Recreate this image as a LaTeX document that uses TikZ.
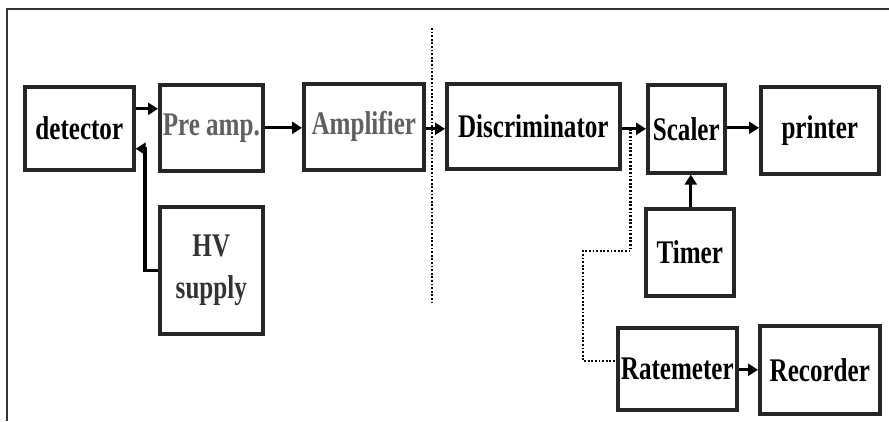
\documentclass[tikz,border=0pt]{standalone}
\usepackage{fontspec}
\setmainfont{Liberation Serif}[FakeStretch=0.76]
\usetikzlibrary{arrows.meta}
\definecolor{txtgray}{HTML}{606060}
\definecolor{hvgray}{HTML}{333333}
\tikzset{
  blk/.style={draw=black!85, line width=3.6pt, anchor=north west, inner sep=0pt,
    font=\fontsize{33}{42}\selectfont\bfseries, align=center},
  arr/.style={line width=3.2pt, -{Triangle[length=10pt,width=12pt]}},
  dots/.style={line width=2.6pt, dash pattern=on 1.8pt off 1.8pt},
}
\begin{document}
\begin{tikzpicture}[x=1pt,y=-1pt]
\useasboundingbox (0,0) rectangle (889,421);
% open outer frame
\draw[line width=2pt, black!80] (7,421) -- (7,9) -- (889,9);
% boxes
\node[blk, minimum width=109pt, minimum height=83pt] (det) at (23,85) {detector};
\node[blk, minimum width=103pt, minimum height=86pt, text=txtgray] (pre) at (158,83) {Pre amp.};
\node[blk, minimum width=120pt, minimum height=86pt, text=txtgray] (amp) at (302,82) {Amplifier};
\node[blk, minimum width=103pt, minimum height=127pt, text=hvgray] (hv) at (158,205) {HV\\supply};
\node[blk, minimum width=173pt, minimum height=85pt] (disc) at (445,82) {Discriminator};
\node[blk, minimum width=77pt, minimum height=88pt] (sc) at (646,83) {Scaler};
\node[blk, minimum width=118pt, minimum height=87pt] (pr) at (759,85) {printer};
\node[blk, minimum width=88pt, minimum height=87pt] (tim) at (644,207) {Timer};
\node[blk, minimum width=119pt, minimum height=82pt] (rate) at (616,326) {Ratemeter};
\node[blk, minimum width=120pt, minimum height=88pt] (rec) at (758,324) {Recorder};
% divider
\coordinate (dvt) at (432,28);
\coordinate (dvb) at (432,302);
\draw[dots] (dvt) -- (dvb);
% connectors
\draw[arr] ([yshift=19.5pt]det.east) coordinate (a1) -- (a1 -| pre.west);
\draw[arr] (hv.west) -- ++(-13,0) |- ([yshift=-20.5pt]det.east);
\draw[arr] (pre.east) -- (pre.east -| amp.west);
\draw[arr] ([yshift=-2pt]amp.east) coordinate (a2) -- (a2 -| disc.west);
\draw[arr] (disc.east |- sc.west) -- (sc.west);
\draw[arr] ([yshift=1pt]sc.east) coordinate (a3) -- (a3 -| pr.west);
\draw[arr] ([xshift=1pt]tim.north) coordinate (a4) -- (a4 |- sc.south);
\draw[arr] ([yshift=-1pt]rate.east) coordinate (a5) -- (a5 -| rec.west);
% dotted branch to ratemeter
\coordinate (tap) at ([xshift=9pt]disc.east |- sc.west);
\draw[dots] (tap) -- (tap |- 0,251) -- (583,251) |- ([yshift=8pt]rate.west);
\end{tikzpicture}
\end{document}
